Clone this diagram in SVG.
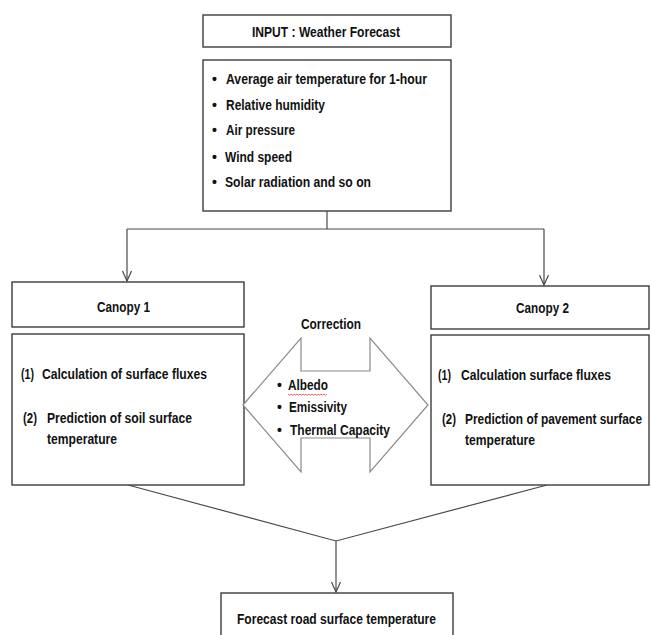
<svg xmlns="http://www.w3.org/2000/svg" width="651" height="635" viewBox="0 0 651 635">
<style>
.box{fill:#fff;stroke:#3c3c3c;stroke-width:1.4}
.conn{fill:none;stroke:#4a4a4a;stroke-width:1.2}
.dbl{fill:#fff;stroke:#8a8a8a;stroke-width:1.2}
text{font-family:"Liberation Sans Narrow","Arial Narrow","Liberation Sans",Arial,sans-serif;font-weight:bold;font-size:14px;fill:#111}
</style>
<defs>
<path id="vh" d="M-4.5,-10 L0,0 L4.5,-10" fill="none" stroke="#4a4a4a" stroke-width="1.2"/>
</defs>
<rect width="651" height="635" fill="#fff"/>
<g id="connectors">
<path class="conn" d="M327,211 V229"/>
<path class="conn" d="M127,229 H544"/>
<path class="conn" d="M127,229 V281"/>
<use href="#vh" x="127" y="281"/>
<path class="conn" d="M544,229 V285"/>
<use href="#vh" x="544" y="285"/>
<path class="conn" d="M128,485 L336,541 L547,485"/>
<path class="conn" d="M336,541 V592"/>
<use href="#vh" x="336" y="592"/>
</g>
<g id="input">
<rect class="box" x="203" y="15" width="248" height="32"/>
<text x="252" y="37" textLength="148" lengthAdjust="spacingAndGlyphs">INPUT : Weather Forecast</text>
</g>
<g id="inputs-list">
<rect class="box" x="203" y="60" width="248" height="151"/>
<text x="212" y="84">•</text><text x="226" y="84" textLength="201" lengthAdjust="spacingAndGlyphs">Average air temperature for 1-hour</text>
<text x="212" y="110">•</text><text x="226" y="110" textLength="99" lengthAdjust="spacingAndGlyphs">Relative humidity</text>
<text x="212" y="135">•</text><text x="226" y="135" textLength="69" lengthAdjust="spacingAndGlyphs">Air pressure</text>
<text x="212" y="162">•</text><text x="225" y="162" textLength="67" lengthAdjust="spacingAndGlyphs">Wind speed</text>
<text x="212" y="187">•</text><text x="225" y="187" textLength="146" lengthAdjust="spacingAndGlyphs">Solar radiation and so on</text>
</g>
<g id="canopy1">
<rect class="box" x="12" y="282" width="232" height="45"/>
<text x="97" y="312" textLength="53" lengthAdjust="spacingAndGlyphs">Canopy 1</text>
</g>
<g id="canopy1-body">
<rect class="box" x="12" y="334" width="232" height="151"/>
<text x="21" y="379" textLength="13" lengthAdjust="spacingAndGlyphs">(1)</text>
<text x="42" y="379" textLength="165" lengthAdjust="spacingAndGlyphs">Calculation of surface fluxes</text>
<text x="23" y="423" textLength="14" lengthAdjust="spacingAndGlyphs">(2)</text>
<text x="47" y="423" textLength="145" lengthAdjust="spacingAndGlyphs">Prediction of soil surface</text>
<text x="47" y="444" textLength="70" lengthAdjust="spacingAndGlyphs">temperature</text>
</g>
<g id="canopy2">
<rect class="box" x="431" y="286" width="218" height="43"/>
<text x="516" y="313" textLength="53" lengthAdjust="spacingAndGlyphs">Canopy 2</text>
</g>
<g id="canopy2-body">
<rect class="box" x="431" y="335" width="218" height="150"/>
<text x="438" y="380" textLength="13" lengthAdjust="spacingAndGlyphs">(1)</text>
<text x="461" y="380" textLength="150" lengthAdjust="spacingAndGlyphs">Calculation surface fluxes</text>
<text x="442" y="424" textLength="14" lengthAdjust="spacingAndGlyphs">(2)</text>
<text x="465" y="424" textLength="177" lengthAdjust="spacingAndGlyphs">Prediction of pavement surface</text>
<text x="465" y="445" textLength="70" lengthAdjust="spacingAndGlyphs">temperature</text>
</g>
<g id="correction">
<text x="301" y="329" textLength="60" lengthAdjust="spacingAndGlyphs">Correction</text>
<polygon class="dbl" points="243,405 301,338 301,371 370,371 370,338 428,405 370,472 370,438 301,438 301,472"/>
<text x="277" y="390">•</text><text x="288" y="390" textLength="40" lengthAdjust="spacingAndGlyphs">Albedo</text>
<path d="M288,394 l1.5,1.2 l1.5,-1.2 l1.5,1.2 l1.5,-1.2 l1.5,1.2 l1.5,-1.2 l1.5,1.2 l1.5,-1.2 l1.5,1.2 l1.5,-1.2 l1.5,1.2 l1.5,-1.2 l1.5,1.2 l1.5,-1.2 l1.5,1.2 l1.5,-1.2 l1.5,1.2 l1.5,-1.2 l1.5,1.2 l1.5,-1.2 l1.5,1.2 l1.5,-1.2 l1.5,1.2 l1.5,-1.2 l1.5,1.2 l1.5,-1.2" fill="none" stroke="#e02020" stroke-width="0.7"/>
<text x="277" y="412">•</text><text x="289" y="412" textLength="58" lengthAdjust="spacingAndGlyphs">Emissivity</text>
<text x="277" y="435">•</text><text x="290" y="435" textLength="100" lengthAdjust="spacingAndGlyphs">Thermal Capacity</text>
</g>
<g id="output">
<rect class="box" x="221" y="593" width="232" height="50"/>
<text x="237" y="624" textLength="199" lengthAdjust="spacingAndGlyphs">Forecast road surface temperature</text>
</g>
</svg>
